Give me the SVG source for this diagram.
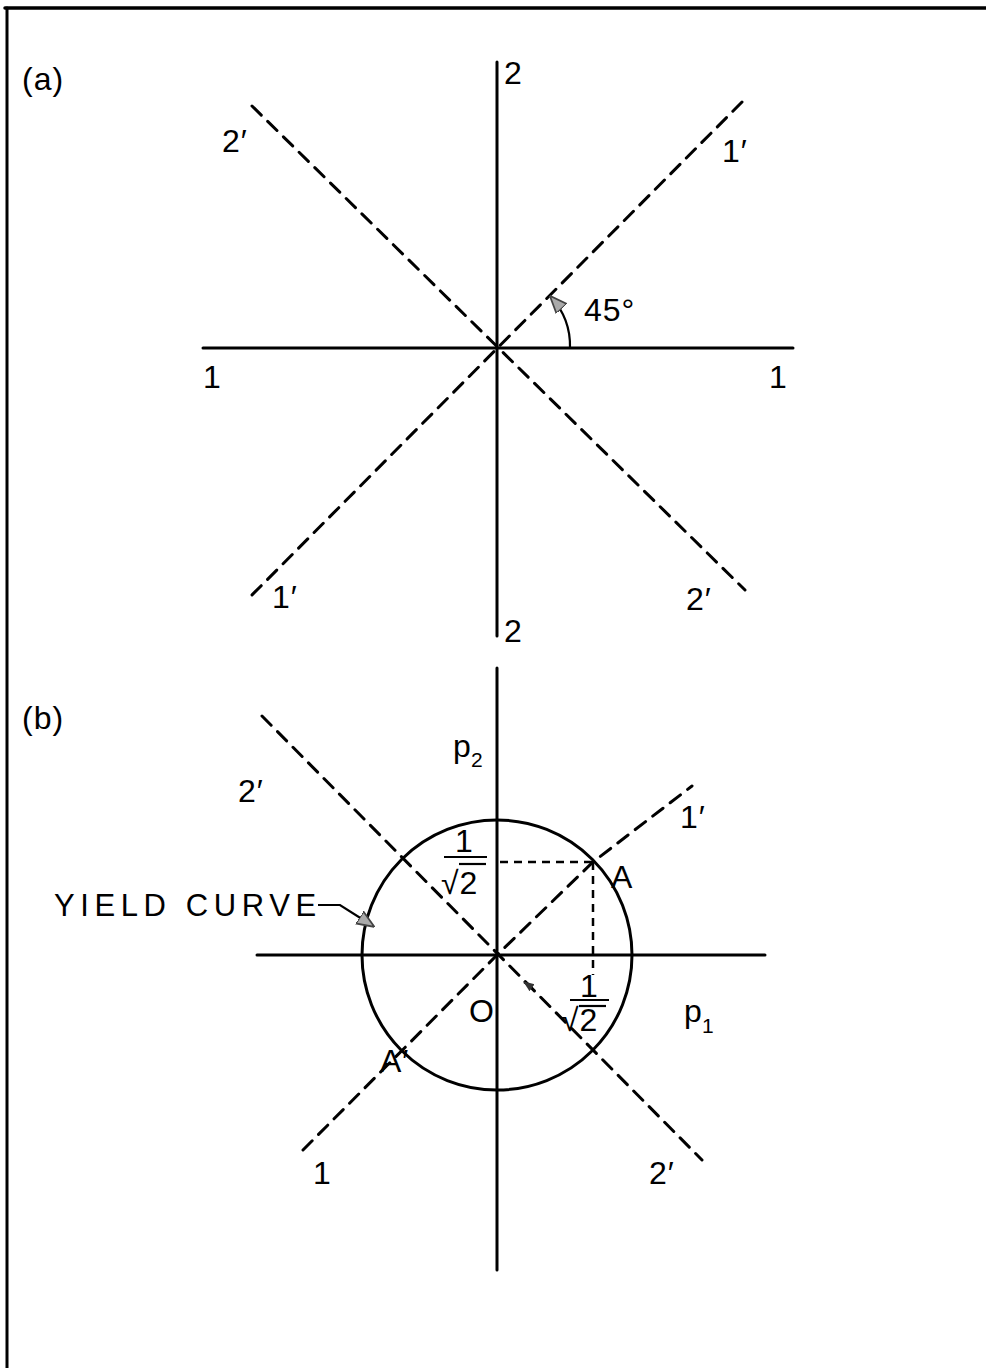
<svg xmlns="http://www.w3.org/2000/svg" width="986" height="1368" viewBox="0 0 986 1368">
<defs>
<style>
.ax{stroke:#000;stroke-width:3;fill:none;stroke-linecap:round}
.th{stroke:#000;stroke-width:2.2;fill:none}
.ds{stroke:#000;stroke-width:3;fill:none;stroke-dasharray:13 9;stroke-linecap:round}
.dp{stroke:#000;stroke-width:2.5;fill:none;stroke-dasharray:8 6}
.t{font-family:"Liberation Sans","DejaVu Sans",sans-serif;font-size:32px;letter-spacing:1px;fill:#000}
.y{font-family:"Liberation Sans","DejaVu Sans",sans-serif;font-size:31px;letter-spacing:5.6px;fill:#000}
.s{font-family:"Liberation Sans","DejaVu Sans",sans-serif;font-size:21px;fill:#000}
</style>
<marker id="ah" viewBox="0 0 10 10" refX="9" refY="5" markerWidth="8" markerHeight="8" orient="auto">
<path d="M0,1 L10,5 L0,9 Z" fill="#aaa" stroke="#444" stroke-width="1"/>
</marker>
<marker id="sm" viewBox="0 0 10 10" refX="9" refY="5" markerWidth="5" markerHeight="5" orient="auto">
<path d="M0,1 L10,5 L0,9 Z" fill="#333"/>
</marker>
</defs>
<rect width="986" height="1368" fill="#fff"/>
<g id="frame">
<line class="ax" x1="5" y1="8" x2="986" y2="8" style="stroke-width:3.5"/>
<line class="ax" x1="7" y1="8" x2="7" y2="1368"/>
</g>
<g id="part-a">
<text class="t" x="22" y="90">(a)</text>
<g id="a-axis2"><line class="ax" x1="497" y1="62" x2="497" y2="636"/><text class="t" x="504" y="84">2</text><text class="t" x="504" y="642">2</text></g>
<g id="a-axis1"><line class="ax" x1="203" y1="348" x2="793" y2="348"/><text class="t" x="203" y="388">1</text><text class="t" x="769" y="388">1</text></g>
<g id="a-line2p"><text class="t" x="222" y="152">2′</text><text class="t" x="686" y="610">2′</text></g>
<g id="a-line1p"><text class="t" x="722" y="162">1′</text><text class="t" x="272" y="608">1′</text></g>
<g id="a-angle"><text class="t" x="584" y="321">45°</text></g>
</g>
<g id="part-b">
<text class="t" x="22" y="729">(b)</text>
<g id="b-p2"><line class="ax" x1="497" y1="668" x2="497" y2="1270"/><text class="t" x="453" y="757">p</text><text class="s" x="471" y="767">2</text></g>
<g id="b-p1"><line class="ax" x1="257" y1="955" x2="765" y2="955"/><text class="t" x="684" y="1022">p</text><text class="s" x="702" y="1033">1</text></g>
<g id="b-yield"><circle class="ax" cx="497" cy="955" r="135"/><text class="y" x="54" y="916">YIELD CURVE</text></g>
<g id="b-line2p"><text class="t" x="238" y="802">2′</text><text class="t" x="649" y="1184">2′</text></g>
<g id="b-line1p"><text class="t" x="680" y="828">1′</text><text class="t" x="313" y="1184">1</text></g>
<g id="b-A"><text class="t" x="611" y="888">A</text></g>
<g id="b-Ap"><text class="t" x="380" y="1072">A′</text></g>
<g id="b-O"><text class="t" x="469" y="1022">O</text></g>
<g id="b-frac1"><text class="t" x="455" y="852">1</text><line class="th" x1="444" y1="857" x2="487" y2="857"/><text class="t" x="441" y="894">√2</text><line class="th" x1="459" y1="864" x2="486" y2="864"/></g>
<g id="b-frac2"><text class="t" x="580" y="997">1</text><line class="th" x1="570" y1="1000" x2="609" y2="1000"/><text class="t" x="561" y="1031">√2</text><line class="th" x1="579" y1="1006" x2="606" y2="1006"/></g>
</g>
<g id="connectors">
<line class="ds" x1="252" y1="106" x2="745" y2="590"/>
<line class="ds" x1="742" y1="102" x2="250" y2="597"/>
<path class="th" d="M570,348 A73,73 0 0 0 551,297" marker-end="url(#ah)"/>
<line class="ds" x1="262" y1="716" x2="702" y2="1160"/>
<polyline class="ds" points="303,1150 497,955 593,862 692,786"/>
<line class="dp" x1="500" y1="862" x2="593" y2="862"/>
<line class="dp" x1="593" y1="862" x2="593" y2="975"/>
<path class="th" d="M318,905 L340,905 L373,926" marker-end="url(#ah)"/>
<path class="th" d="M531,987 L524,982" marker-end="url(#sm)"/>
</g>
</svg>
